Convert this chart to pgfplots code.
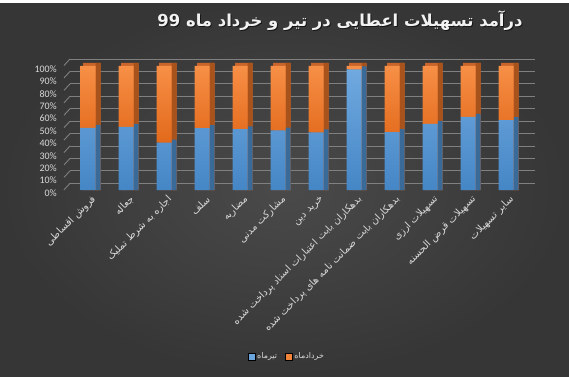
\documentclass[border=0pt]{standalone}
\usepackage{pgfplots}
\usepackage{pgfplotstable}
\pgfplotsset{compat=1.18}
\usepackage{fontspec}
\setmainfont{Carlito}
\newfontfamily\arabicfont[Script=Arabic]{DejaVu Sans}
\TeXXeTstate=1
\definecolor{txt}{HTML}{D9D9D9}
\definecolor{gridc}{HTML}{808080}
\definecolor{blueT}{HTML}{70A9DF}
\definecolor{blueB}{HTML}{4586C6}
\definecolor{blueS}{HTML}{3A6A98}
\definecolor{orT}{HTML}{F78F46}
\definecolor{orB}{HTML}{E2691B}
\definecolor{orS}{HTML}{A8531C}
\definecolor{orTop}{HTML}{C9652A}
\definecolor{bgIn}{HTML}{4A4A4A}
\definecolor{bgOut}{HTML}{363636}

\pgfplotstableread{
x tir khor tirs khors
0  50.1 49.9 52.5 102.5
1  51.0 49.0 53.4 102.5
2  38.3 61.7 40.7 102.5
3  49.9 50.1 52.3 102.5
4  49.0 51.0 51.4 102.5
5  48.0 52.0 50.4 102.5
6  46.4 53.6 48.8 102.5
7  97.3 2.7  99.7 102.5
8  46.6 53.4 49.0 102.5
9  53.4 46.6 55.8 102.5
10 59.0 41.0 61.4 102.5
11 56.3 43.7 58.7 102.5
}\datatable

\begin{document}
\begin{tikzpicture}[x=1bp,y=1bp]
\shade[inner color=bgIn, outer color=bgOut] (0,0) rectangle (569,376);
\fill[white] (0,373) rectangle (569,376);
\path[use as bounding box] (0,0) rectangle (569,376);
\node[text=black, opacity=0.6, font=\arabicfont\bfseries\fontsize{16.5}{19}\selectfont] at (341,354) {\beginR درآمد تسهیلات اعطایی در تیر و خرداد ماه 99\endR};
\node[text=white!95!black, font=\arabicfont\bfseries\fontsize{16.5}{19}\selectfont] at (340,355) {\beginR درآمد تسهیلات اعطایی در تیر و خرداد ماه 99\endR};

% grid (back wall)
\begin{axis}[at={(70bp,192.7bp)}, anchor=south west, scale only axis,
  width=465bp, height=124.3bp, xmin=0, xmax=1, ymin=0, ymax=100,
  ytick={0,10,...,100}, xtick=\empty, yticklabels={}, clip=false,
  ymajorgrids, grid style={gridc, line width=0.9pt},
  axis line style={draw=none}, major tick length=0pt]
\pgfplotsinvokeforeach{0,10,...,100}{\draw[gridc, line width=0.9pt] (axis cs:0,#1) -- ++(-6bp,-6.5bp);}
\end{axis}

% side faces
\begin{axis}[at={(69bp,186bp)}, anchor=south west, scale only axis,
  width=465.5bp, height=124bp, xmin=-0.5, xmax=11.75, ymin=0, ymax=100,
  hide axis, clip=false]
\addplot[ybar, bar width=17.5bp, bar shift=3.75bp, fill=orTop, draw=none] table[x=x, y=khors] {\datatable};
\addplot[ybar, bar width=5bp, bar shift=10bp, fill=orS, draw=none] table[x=x, y=khors] {\datatable};
\addplot[ybar, bar width=5bp, bar shift=10bp, fill=blueS, draw=none] table[x=x, y=tirs] {\datatable};
\end{axis}

% front faces
\begin{axis}[at={(69bp,186bp)}, anchor=south west, scale only axis,
  width=465.5bp, height=124bp, xmin=-0.5, xmax=11.75, ymin=0, ymax=100,
  ybar stacked, bar width=15bp, clip=false,
  axis line style={draw=none}, major tick length=0pt,
  xtick={0,...,11},
  xticklabels={
    {\arabicfont\beginR فروش اقساطی\endR},
    {\arabicfont\beginR جعاله\endR},
    {\arabicfont\beginR اجاره به شرط تملیک\endR},
    {\arabicfont\beginR سلف\endR},
    {\arabicfont\beginR مضاربه\endR},
    {\arabicfont\beginR مشارکت مدنی\endR},
    {\arabicfont\beginR خرید دین\endR},
    {\arabicfont\beginR بدهکاران بابت اعتبارات اسناد پرداخت شده\endR},
    {\arabicfont\beginR بدهکاران بابت ضمانت نامه های پرداخت شده\endR},
    {\arabicfont\beginR تسهیلات ارزی\endR},
    {\arabicfont\beginR تسهیلات قرض الحسنه\endR},
    {\arabicfont\beginR سایر تسهیلات\endR}},
  xticklabel style={rotate=45, anchor=east, font=\fontsize{10}{12}\selectfont, text=txt, inner sep=1pt, yshift=-10bp},
  ytick={0,10,...,100},
  yticklabels={0\%,10\%,20\%,30\%,40\%,50\%,60\%,70\%,80\%,90\%,100\%},
  yticklabel style={font=\fontsize{10}{12}\selectfont, text=txt, anchor=east, xshift=-11bp, yshift=-3bp, inner sep=1pt},
  legend style={at={(0.468,-1.343)}, anchor=center, draw=none, fill=none, text=txt,
    font=\fontsize{8}{10}\selectfont, legend columns=2,
    /tikz/every even column/.append style={column sep=6bp}},
  legend image code/.code={\fill[#1] (0bp,-3.5bp) rectangle (7bp,3.5bp);},
  ]
\addlegendimage{fill=blueT!85!blueB}
\addlegendentry{\arabicfont\beginR تیرماه\endR}
\addlegendimage{fill=orT!70!orB}
\addlegendentry{\arabicfont\beginR خردادماه\endR}
\addplot[forget plot, draw=none, top color=blueT, bottom color=blueB] table[x=x, y=tir] {\datatable};
\addplot[forget plot, draw=none, top color=orT, bottom color=orB] table[x=x, y=khor] {\datatable};
\end{axis}
\end{tikzpicture}
\end{document}
